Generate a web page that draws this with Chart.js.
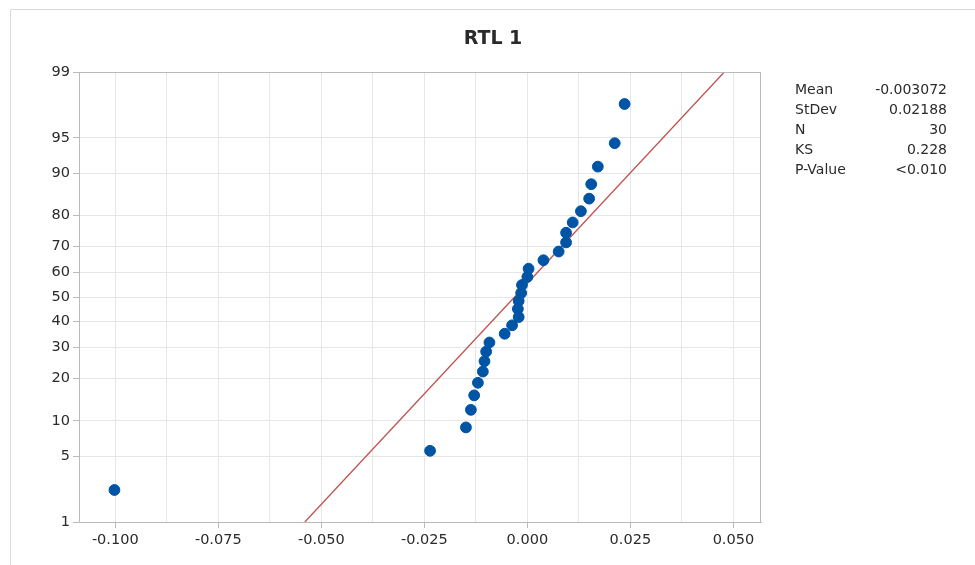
<!DOCTYPE html>
<html>
<head>
<meta charset="utf-8">
<script src="https://cdn.jsdelivr.net/npm/chart.js@4/dist/chart.umd.min.js"></script>
<style>
  html, body { margin: 0; padding: 0; background: #ffffff; }
  #wrap { position: relative; width: 975px; height: 565px; }
</style>
</head>
<body>
<div id="wrap"><canvas id="c" width="975" height="565"></canvas></div>
<script>
// ---- data ----
const chartTitle = "RTL 1";
// sample values (sorted)
const sampleValues = [
  -0.1002, -0.0236, -0.0149, -0.0137, -0.0129, -0.0120, -0.0108, -0.0104, -0.0100, -0.0092,
  -0.0055, -0.0037, -0.0021, -0.0023, -0.0021, -0.0015, -0.0013, 0.0000, 0.0003, 0.0039,
  0.0076, 0.0094, 0.0094, 0.0110, 0.0130, 0.0150, 0.0155, 0.0171, 0.0212, 0.0236
];
// plotted percent for each sample value
const samplePercents = [
  2.30, 5.59, 8.88, 12.17, 15.46, 18.75, 22.04, 25.33, 28.62, 31.91,
  35.20, 38.49, 41.78, 45.07, 48.36, 51.64, 54.93, 58.22, 61.51, 64.80,
  68.09, 71.38, 74.67, 77.96, 81.25, 84.54, 87.83, 91.12, 94.41, 97.70
];
// fitted line end points (x value, percent)
const fitLineX = [-0.0540, 0.0478];
const fitLinePercents = [1, 99];
// axis ticks
const yTickPercents = [1, 5, 10, 20, 30, 40, 50, 60, 70, 80, 90, 95, 99];
const xTickLabels = [-0.100, -0.075, -0.050, -0.025, 0.000, 0.025, 0.050];
const xGridValues = [-0.1, -0.0875, -0.075, -0.0625, -0.05, -0.0375, -0.025, -0.0125, 0, 0.0125, 0.025, 0.0375, 0.05];
// summary table
const statLabels = ["Mean", "StDev", "N", "KS", "P-Value"];
const statValues = ["-0.003072", "0.02188", "30", "0.228", "<0.010"];

// inverse normal CDF (probability-scale transform)
function probit(p) {
  const a = [-3.969683028665376e+01, 2.209460984245205e+02, -2.759285104469687e+02, 1.383577518672690e+02, -3.066479806614716e+01, 2.506628277459239e+00];
  const b = [-5.447609879822406e+01, 1.615858368580409e+02, -1.556989798598866e+02, 6.680131188771972e+01, -1.328068155288572e+01];
  const c = [-7.784894002430293e-03, -3.223964580411365e-01, -2.400758277161838e+00, -2.549732539343734e+00, 4.374664141464968e+00, 2.938163982698783e+00];
  const d = [7.784695709041462e-03, 3.224671290700398e-01, 2.445134137142996e+00, 3.754408661907416e+00];
  const pl = 0.02425, ph = 1 - pl;
  let q, r;
  if (p < pl) {
    q = Math.sqrt(-2 * Math.log(p));
    return (((((c[0]*q+c[1])*q+c[2])*q+c[3])*q+c[4])*q+c[5]) / ((((d[0]*q+d[1])*q+d[2])*q+d[3])*q+1);
  } else if (p <= ph) {
    q = p - 0.5; r = q * q;
    return (((((a[0]*r+a[1])*r+a[2])*r+a[3])*r+a[4])*r+a[5])*q / (((((b[0]*r+b[1])*r+b[2])*r+b[3])*r+b[4])*r+1);
  } else {
    q = Math.sqrt(-2 * Math.log(1 - p));
    return -(((((c[0]*q+c[1])*q+c[2])*q+c[3])*q+c[4])*q+c[5]) / ((((d[0]*q+d[1])*q+d[2])*q+d[3])*q+1);
  }
}

const FONT = "'DejaVu Sans', sans-serif";
const TEXT = "#2a2a2a";
const GRID = "#e6e6e6";
const AXIS = "#b9b9b9";

const points = sampleValues.map((v, i) => ({ x: v, y: probit(samplePercents[i] / 100) }));
const fitPts = fitLineX.map((v, i) => ({ x: v, y: probit(fitLinePercents[i] / 100) }));
const yMin = probit(yTickPercents[0] / 100);
const yMax = probit(yTickPercents[yTickPercents.length - 1] / 100);

const isMajorX = v => xTickLabels.some(t => Math.abs(t - v) < 1e-9);

const decor = {
  id: 'decor',
  beforeDraw(chart) {
    const ctx = chart.ctx;
    ctx.save();
    ctx.fillStyle = '#ffffff';
    ctx.fillRect(0, 0, chart.width, chart.height);
    ctx.strokeStyle = '#dadada';
    ctx.lineWidth = 1;
    ctx.beginPath();
    ctx.moveTo(10.5, 565);
    ctx.lineTo(10.5, 9.5);
    ctx.lineTo(975, 9.5);
    ctx.stroke();
    ctx.restore();
  },
  afterDraw(chart) {
    const ctx = chart.ctx;
    const a = chart.chartArea;
    ctx.save();
    // plot frame
    ctx.strokeStyle = AXIS;
    ctx.lineWidth = 1;
    ctx.strokeRect(Math.round(a.left) + 0.5, Math.round(a.top) + 0.5, Math.round(a.right - a.left) - 1, Math.round(a.bottom - a.top));
    // title
    ctx.fillStyle = TEXT;
    ctx.font = "bold 19px " + FONT;
    ctx.textAlign = 'center';
    ctx.textBaseline = 'middle';
    ctx.fillText(chartTitle, 493, 39);
    // stats table
    ctx.font = "14px " + FONT;
    for (let i = 0; i < statLabels.length; i++) {
      const y = 90 + i * 20;
      ctx.textAlign = 'left';
      ctx.fillText(statLabels[i], 795, y);
      ctx.textAlign = 'right';
      ctx.fillText(statValues[i], 947, y);
    }
    ctx.restore();
  }
};

new Chart(document.getElementById('c'), {
  type: 'scatter',
  data: {
    datasets: [
      {
        type: 'line',
        data: fitPts,
        borderColor: '#c0504d',
        borderWidth: 1.3,
        pointRadius: 0,
        fill: false,
        order: 2
      },
      {
        type: 'scatter',
        data: points,
        backgroundColor: '#0054a6',
        borderColor: '#0054a6',
        pointRadius: 5.4,
        pointHoverRadius: 5.4,
        order: 1
      }
    ]
  },
  options: {
    responsive: false,
    animation: false,
    events: [],
    layout: { padding: { left: 0, top: 72, right: 214, bottom: 0 } },
    plugins: {
      legend: { display: false },
      title: { display: false },
      tooltip: { enabled: false }
    },
    scales: {
      x: {
        type: 'linear',
        min: -0.1088,
        max: 0.0567,
        afterBuildTicks(scale) {
          scale.ticks = xGridValues.map(v => ({ value: v }));
        },
        afterFit(scale) { scale.height = 43; },
        ticks: {
          autoSkip: false,
          maxRotation: 0,
          padding: 4,
          color: TEXT,
          font: { family: FONT, size: 14.5 },
          callback: v => isMajorX(v) ? v.toFixed(3) : ''
        },
        grid: {
          color: GRID,
          tickLength: 6,
          tickColor: ctx => (ctx.tick && isMajorX(ctx.tick.value)) ? AXIS : 'rgba(0,0,0,0)'
        },
        border: { color: AXIS }
      },
      y: {
        type: 'linear',
        min: yMin,
        max: yMax,
        afterBuildTicks(scale) {
          scale.ticks = yTickPercents.map(p => ({ value: probit(p / 100) }));
        },
        afterFit(scale) { scale.width = 79; },
        ticks: {
          autoSkip: false,
          padding: 3,
          color: TEXT,
          font: { family: FONT, size: 14.5 },
          callback: (v, i) => String(yTickPercents[i])
        },
        grid: {
          color: GRID,
          tickLength: 6,
          tickColor: AXIS
        },
        border: { color: AXIS }
      }
    }
  },
  plugins: [decor]
});
</script>
</body>
</html>
